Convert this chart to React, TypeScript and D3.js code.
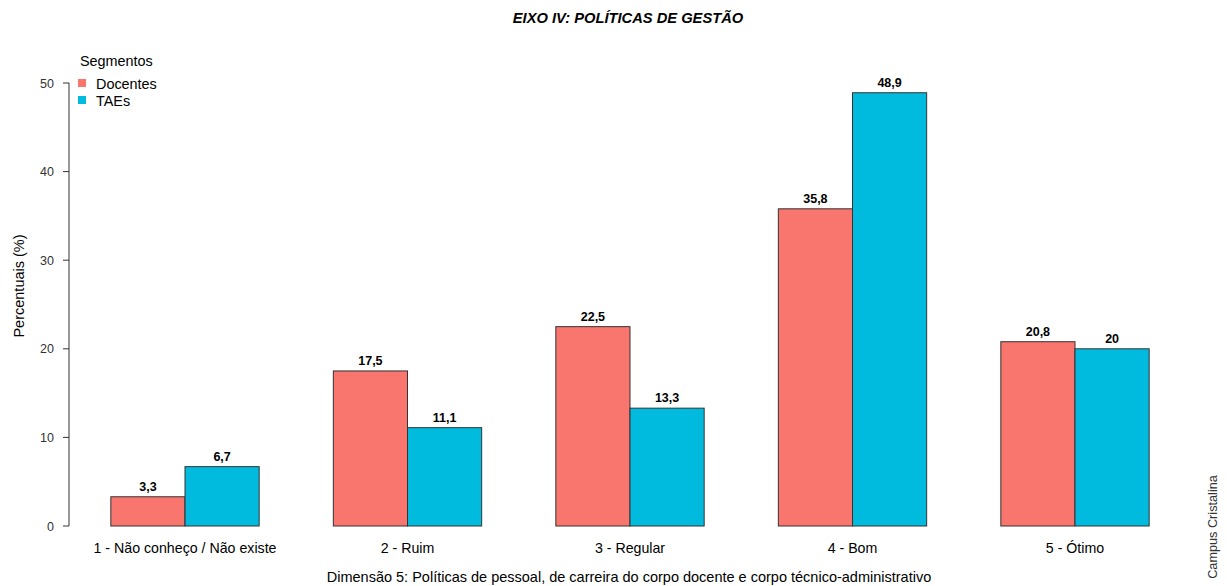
import React from "react";
import * as d3 from "d3";

const categories = ["1 - Não conheço / Não existe", "2 - Ruim", "3 - Regular", "4 - Bom", "5 - Ótimo"];
const segments = ["Docentes", "TAEs"];
const docentes = [3.3, 17.5, 22.5, 35.8, 20.8];
const taes = [6.7, 11.1, 13.3, 48.9, 20];
const yTicks = [0, 10, 20, 30, 40, 50];
const colors = ["#F8766D", "#00BBDD"];

const W = 1227;
const H = 586;
const fmt = (v: number) => String(v).replace(".", ",");

export default function App() {
  const y = d3.scaleLinear().domain([0, 50]).range([526, 83]);
  const x0 = d3
    .scaleBand<string>()
    .domain(categories)
    .range([73.75, 73.75 + 222.5 * 5])
    .paddingInner(1 / 3)
    .paddingOuter(1 / 6);
  const x1 = d3.scaleBand<string>().domain(segments).range([0, x0.bandwidth()]);
  const series = [docentes, taes];
  const font = "Liberation Sans, Arial, sans-serif";

  return (
    <svg width={W} height={H} style={{ position: "absolute", left: 0, top: 0, background: "#fff" }} fontFamily={font}>
      <text x={628} y={23} textAnchor="middle" fontSize={14.7} fontWeight="bold" fontStyle="italic" fill="#000">
        EIXO IV: POLÍTICAS DE GESTÃO
      </text>
      {/* y axis */}
      <line x1={69} x2={69} y1={y(0)} y2={y(50)} stroke="#333" strokeWidth={1} />
      {yTicks.map((t) => (
        <g key={t}>
          <line x1={63} x2={69} y1={y(t)} y2={y(t)} stroke="#333" />
          <text x={54} y={y(t) + 4.5} textAnchor="end" fontSize={12.5} fill="#333">{t}</text>
        </g>
      ))}
      <text transform={`translate(24,286) rotate(-90)`} textAnchor="middle" fontSize={14.5} fill="#000">
        Percentuais (%)
      </text>
      {/* bars */}
      {categories.map((c, i) => (
        <g key={c} transform={`translate(${x0(c)},0)`}>
          {segments.map((s, j) => {
            const v = series[j][i];
            const bx = x1(s)!;
            return (
              <g key={s}>
                <rect x={bx} y={y(v)} width={x1.bandwidth()} height={y(0) - y(v)} fill={colors[j]} stroke="#333" strokeWidth={1} />
                <text x={bx + x1.bandwidth() / 2} y={y(v) - 6} textAnchor="middle" fontSize={12.5} fontWeight="bold" fill="#000">
                  {fmt(v)}
                </text>
              </g>
            );
          })}
          <text x={x0.bandwidth() / 2} y={553} textAnchor="middle" fontSize={14.2} fill="#000">{c}</text>
        </g>
      ))}
      <text x={629} y={582} textAnchor="middle" fontSize={14.5} fill="#000">
        Dimensão 5: Políticas de pessoal, de carreira do corpo docente e corpo técnico-administrativo
      </text>
      <text transform={`translate(1217,527) rotate(-90)`} textAnchor="middle" fontSize={12.7} fill="#333">
        Campus Cristalina
      </text>
      {/* legend */}
      <text x={80} y={66} fontSize={14.4} fill="#000">Segmentos</text>
      {segments.map((s, j) => (
        <g key={s}>
          <rect x={78} y={79 + j * 17} width={8} height={8} fill={colors[j]} />
          <text x={96} y={89 + j * 17} fontSize={14.4} fill="#000">{s}</text>
        </g>
      ))}
    </svg>
  );
}
